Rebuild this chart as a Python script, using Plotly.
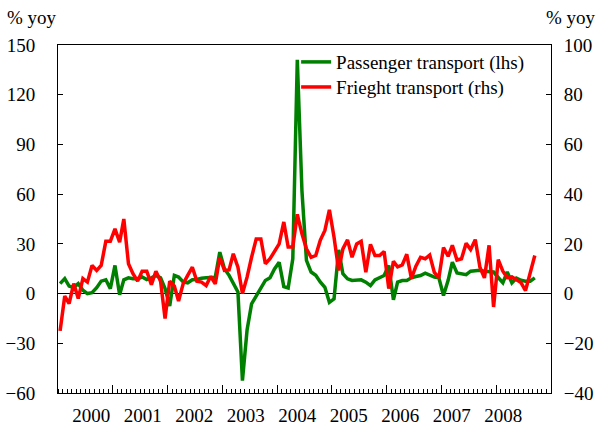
import pandas as pd
import plotly.graph_objects as go

# Monthly data, Jan 2000 - Sep 2008
months = pd.date_range("2000-01-01", periods=105, freq="MS") + pd.Timedelta(days=14)

passenger = [6, 9, 4.5, 3.7, 6, 2, 0, 0.5, 3.5, 7.5, 8.3, 3, 17, -0.7, 8.3, 9.5,
             9, 9, 10, 8.5, 9.5, 10.9, 9.5, 3, -7.5, 11, 10, 7, 6.5, 8.3, 8.5, 9.3,
             9.5, 9.5, 9.9, 25, 15, 11, 6.5, 1, -52.5, -22, -6.2, -1.2, 3.4, 7.9, 9.5, 14.9,
             18.9, 4.2, 3.4, 21, 141, 62, 20, 13, 11, 7, 3.8, -5.3, -3.2, 26.4, 12, 8.9,
             7.9, 7.9, 8.3, 6.9, 4.8, 8.3, 9.5, 10.9, 17, -3.8, 6.9, 7.9, 7.9, 9.5, 10.3,
             10.9, 12.3, 10.9, 9.9, 9.5, -1.2, 8, 19, 12.5, 12, 11.4, 13.5, 14, 14, 13.5,
             13.5, 13, 9.7, 6.5, 13, 6.5, 9.3, 8, 7.5, 7.5, 9.5]

freight = [-15, -1, -4, 4, -2, 6, 4.6, 11.3, 9.3, 11.3, 21, 21, 26, 20.7, 30, 12,
           8, 5, 9, 9, 3.6, 9, 5, -10, 5, 3, -3, 4, 7.3, 10.6, 5, 4.6,
           3.2, 6.9, 3.9, 14.6, 9.3, 9.5, 16, 10.6, 0, 6.6, 14.6, 22, 22, 12, 14, 16.7,
           20, 28.8, 18.7, 18.7, 31.9, 24, 18, 14.6, 15.3, 21.4, 25.4, 33.7, 22.7, 9.3, 18, 21.6,
           14.6, 20, 21, 8.6, 19.8, 15.3, 15.3, 16.9, 2, 13, 10.7, 11.5, 15.8, 6.1, 11, 14.6,
           14, 15.5, 8.5, 6.3, 18.5, 15, 19.4, 13.5, 14, 20.2, 17.7, 21.7, 10.6, 6.3, 19.4, -5.4,
           13.6, 9, 6.4, 6.7, 5.5, 4.4, 1.2, 8.5, 15.3]

year_labels = ["2000", "2001", "2002", "2003", "2004", "2005", "2006", "2007", "2008"]
left_ticks = [-60, -30, 0, 30, 60, 90, 120, 150]
right_ticks = [-40, -20, 0, 20, 40, 60, 80, 100]

# axis layout (where the reference puts its year labels / long ticks)
label_pos = pd.date_range("2000-08-10", periods=len(year_labels), freq="343D12h")
year_starts = pd.date_range("2000-01-01", periods=10, freq="YS")
X_RANGE = ["2000-01-01", "2009-01-01"]

FONT = "Liberation Serif, Times New Roman, DejaVu Serif, serif"
FS = 19

fig = go.Figure()
fig.add_trace(go.Scatter(x=months, y=passenger, name="Passenger transport (lhs)",
                         mode="lines", line=dict(color="#008000", width=3.5),
                         legend="legend"))
fig.add_trace(go.Scatter(x=months, y=freight, name="Frieght transport (rhs)",
                         mode="lines", line=dict(color="#ff0000", width=3.5),
                         xaxis="x2", yaxis="y2", legend="legend2"))

leg = dict(xanchor="left", yanchor="middle", bgcolor="rgba(0,0,0,0)", borderwidth=0,
           font=dict(family=FONT, size=FS, color="black"), itemwidth=30)

fig.update_layout(
    width=602, height=429,
    margin=dict(l=58, r=51, t=45, b=36, autoexpand=False),
    paper_bgcolor="white", plot_bgcolor="white",
    font=dict(family=FONT, size=FS, color="black"),
    showlegend=True,
    legend=dict(leg, x=0.483, y=0.951),
    legend2=dict(leg, x=0.483, y=0.879),
    xaxis=dict(type="date", range=X_RANGE,
               tickvals=list(label_pos), ticktext=year_labels, ticks="",
               showline=True, linecolor="black", linewidth=1, mirror=True,
               showgrid=False, zeroline=False, ticklabelstandoff=5, automargin=False,
               minor=dict(dtick="M1", tick0="2000-01-01", ticks="inside", ticklen=4,
                          tickcolor="black", showgrid=False)),
    xaxis2=dict(type="date", range=X_RANGE, overlaying="x", anchor="y2", side="bottom",
                tickvals=list(year_starts), ticks="inside", ticklen=8, tickcolor="black",
                showticklabels=False, showline=False, showgrid=False, zeroline=False,
                automargin=False),
    yaxis=dict(range=[-60, 150], tickvals=left_ticks, ticks="inside", ticklen=5,
               tickcolor="black", showline=True, linecolor="black", linewidth=1,
               showgrid=False, zeroline=True, zerolinecolor="black", zerolinewidth=1,
               ticklabelstandoff=18, automargin=False),
    yaxis2=dict(range=[-40, 100], tickvals=right_ticks, overlaying="y", side="right",
                ticks="inside", ticklen=5, tickcolor="black", showline=True,
                linecolor="black", linewidth=1, showgrid=False, zeroline=False,
                ticklabelstandoff=8, automargin=False),
    annotations=[
        dict(text="% yoy", xref="paper", yref="paper", x=-0.107, y=1.08,
             xanchor="left", yanchor="middle", showarrow=False,
             font=dict(family=FONT, size=FS, color="black")),
        dict(text="% yoy", xref="paper", yref="paper", x=1.095, y=1.08,
             xanchor="right", yanchor="middle", showarrow=False,
             font=dict(family=FONT, size=FS, color="black")),
    ],
)

fig.write_html("out.html", config={"displayModeBar": False},
               post_script="document.body.style.margin='0';")
